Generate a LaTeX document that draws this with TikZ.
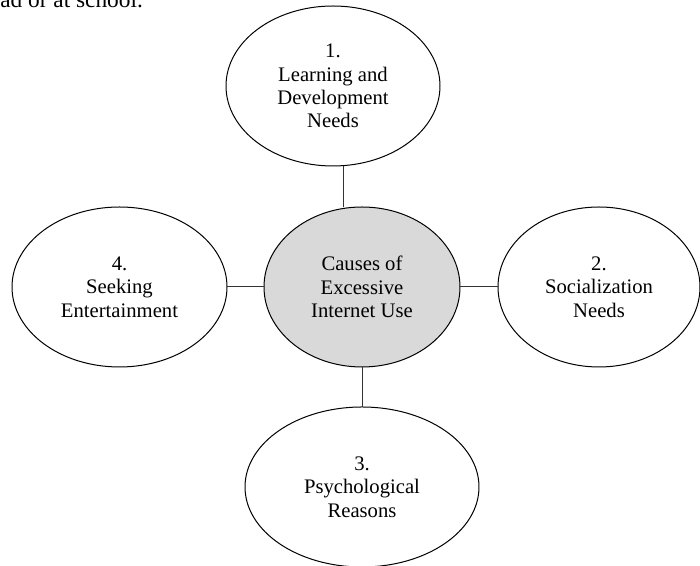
\documentclass[tikz,border=0pt]{standalone}
\usepackage{fontspec}
\setmainfont{Liberation Serif}
\usetikzlibrary{shapes.geometric, positioning}

\definecolor{hubgray}{RGB}{217,217,217}

\begin{document}
\begin{tikzpicture}[
    x=0.6pt, y=-0.6pt,
    node_cause/.style={ellipse, draw, line width=0.6pt, inner sep=2pt, outer sep=0pt,
      minimum height=96pt, align=center, font=\fontsize{12.4}{14}\selectfont},
    node_hub/.style={node_cause, fill=hubgray, minimum width=117.6pt},
    edge_link/.style={line width=0.6pt, draw=black!80}
  ]
    \useasboundingbox (0,0) rectangle (700,566);

    \node[anchor=base west, inner sep=0pt, font=\fontsize{14}{16}\selectfont] (txt) at (0,8) {ad or at school.};

    \node[node_hub] (hub) at (362,287) {Causes of\\Excessive\\Internet Use};

    \node[node_cause, minimum width=128.4pt, above=24.6pt of hub, xshift=-17.4pt] (learn) {1.\\Learning and\\Development\\Needs};
    \node[node_cause, minimum width=121.2pt, right=22.8pt of hub] (social) {2.\\Socialization\\Needs};
    \node[node_cause, minimum width=140.4pt, below=24pt of hub] (psych) {3.\\Psychological\\Reasons};
    \node[node_cause, minimum width=129pt, left=22.2pt of hub] (enter) {4.\\Seeking\\Entertainment};

    \draw[edge_link] ([xshift=6pt]learn.south) -- ([xshift=6pt]learn.south |- hub.north);
    \draw[edge_link] (hub) -- (social);
    \draw[edge_link] (hub) -- (psych);
    \draw[edge_link] (enter) -- (hub);
  \end{tikzpicture}
\end{document}
